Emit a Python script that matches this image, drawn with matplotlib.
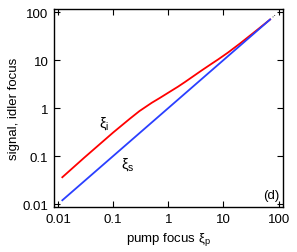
import numpy as np
import matplotlib
matplotlib.use('Agg')
import matplotlib.pyplot as plt
from matplotlib.ticker import FixedLocator, FixedFormatter, NullLocator

plt.rcParams['font.family'] = ['Liberation Sans', 'DejaVu Sans']
plt.rcParams['mathtext.fontset'] = 'custom'
plt.rcParams['mathtext.rm'] = 'Liberation Sans'
plt.rcParams['mathtext.it'] = 'Liberation Sans'

# Daten
xi_p_signal = [0.012, 70]
xi_s = [0.012, 70]

xi_p_idler = [0.012, 0.03, 0.1, 0.2, 0.3, 0.5, 0.7, 1, 1.5, 2, 3, 4, 6, 8,
              12, 20, 40, 70]
xi_i = [0.0362, 0.0927, 0.309, 0.597, 0.865, 1.285, 1.62, 2.09, 2.79, 3.48,
        4.81, 6.05, 8.28, 10.3, 14.25, 22.2, 41.7, 70]

tick_vals = [0.01, 0.1, 1, 10, 100]
tick_labels = ['0.01', '0.1', '1', '10', '100']

fig = plt.figure(figsize=(2.97, 2.53), dpi=100)
ax = fig.add_axes([0.182, 0.178, 0.771, 0.782])

ax.plot(xi_p_idler, xi_i, color='#ff0000', lw=1.3)
ax.plot(xi_p_signal, xi_s, color='#2a3fff', lw=1.3)
ax.plot([78, 88], [78, 88], ls=':', color='black', lw=0.6)

ax.set_xscale('log')
ax.set_yscale('log')
ax.set_xlim(0.0085, 120)
ax.set_ylim(0.0087, 115)

for axis in (ax.xaxis, ax.yaxis):
    axis.set_major_locator(FixedLocator(tick_vals))
    axis.set_major_formatter(FixedFormatter(tick_labels))
    axis.set_minor_locator(NullLocator())

ax.tick_params(direction='in', top=True, right=True, length=4, width=0.8,
               labelsize=9.5, pad=4)
for s in ax.spines.values():
    s.set_linewidth(1.0)

ax.text(0.068, 0.49, r'$\xi_i$', fontsize=10.5, ha='center', va='center')
ax.text(0.18, 0.068, r'$\xi_s$', fontsize=10.5, ha='center', va='center')
ax.text(0.985, 0.06, '(d)', transform=ax.transAxes, fontsize=9.5,
        ha='right', va='center')

ax.set_xlabel(r'pump focus $\xi_p$', fontsize=9.5, labelpad=4)
ax.set_ylabel('signal, idler focus', fontsize=9.5, labelpad=2)

fig.savefig('out.png', dpi=100)
